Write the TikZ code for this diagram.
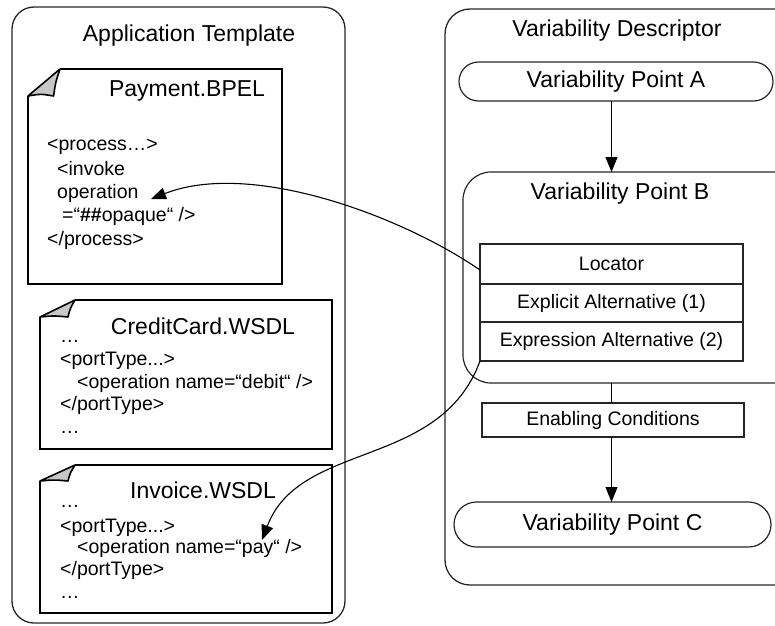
\documentclass[tikz,border=0pt]{standalone}
\usepackage{fontspec}
\setmainfont{Liberation Sans}
\usetikzlibrary{arrows.meta,positioning,calc}

\newcommand{\bigtext}{\fontsize{23}{27}\selectfont}
\newcommand{\codetext}{\fontsize{19.5}{23}\selectfont}

% outline of a document with its top left corner turned down
\newcommand{\docoutline}[3]{%
  \draw[docline] ($(#1.north west)+(#2,0)$) -- (#1.north east) -- (#1.south east)
    -- (#1.south west) -- ($(#1.north west)+(0,#3)$);
  \filldraw[fold] ($(#1.north west)+(#2,0)$) -- ($(#1.north west)+(0,#3)$)
    .. controls ($(#1.north west)+(0.4*#2,0.92*#3)$) .. ($(#1.north west)+(0.8*#2,#3)$)
    .. controls ($(#1.north west)+(0.86*#2,0.5*#3)$) .. ($(#1.north west)+(#2,0)$) -- cycle;}

\tikzset{
  frame/.style={draw=black!85, line width=1.3pt, inner sep=0pt, outer sep=0pt},
  docbox/.style={rectangle, inner sep=0pt, outer sep=0pt},
  docline/.style={line width=2pt, line join=miter},
  fold/.style={fill=black!22, draw=black, line width=1.6pt, line join=round},
  bigtitle/.style={font=\bigtext, inner sep=0pt},
  codeline/.style={font=\codetext, anchor=west, inner sep=0pt, text height=14pt, text depth=4pt},
  cell/.style={draw=black!85, line width=1.2pt, font=\codetext, minimum width=263pt, inner sep=0pt, outer sep=0pt},
  vpoint/.style={draw=black!85, line width=1.2pt, font=\bigtext, inner sep=0pt, outer sep=0pt},
  flow/.style={line width=1.2pt, -{Triangle[length=15pt,width=12pt]}},
  link/.style={line width=1.1pt, -{Triangle[length=15pt,width=12pt]}},
}

\begin{document}
\begin{tikzpicture}[x=1pt, y=-1pt]
  \useasboundingbox (0,0) rectangle (775,625);
  \clip (0,0) rectangle (775,625);

  % application template
  \node[frame, rounded corners=22pt, minimum width=333pt, minimum height=616pt] (apptpl) at (178.5,315) {};
  \node[bigtitle] (apptitle) at (189,36) {Application Template};

  \node[docbox, minimum width=254pt, minimum height=215pt] (pay) at (155,176.5) {};
  \node[docbox, minimum width=292pt, minimum height=149pt] (crd) at (186,374.5) {};
  \node[docbox, minimum width=292pt, minimum height=148pt] (inv) at (186,539) {};
  \docoutline{pay}{32}{27}
  \docoutline{crd}{35}{17}
  \docoutline{inv}{35}{16}

  \node[bigtitle] (paytitle) at (187,91) {Payment.BPEL};
  \node[codeline] (p1) at (47,145) {<process…>};
  \node[codeline] (p2) at (57,170) {<invoke};
  \node[codeline] (payop) at (57,193) {operation};
  \node[codeline] (p4) at (62,216) {=“\textbf{\#\#}opaque“ />};
  \node[codeline] (p5) at (47,240) {</process>};
  \coordinate (paytip) at (151,199);

  \node[bigtitle] (crdtitle) at (203,326) {CreditCard.WSDL};
  \node[codeline] (c1) at (60,337) {…};
  \node[codeline] (c2) at (60,360) {<portType...>};
  \node[codeline] (c3) at (77,383) {<operation name=“debit“ />};
  \node[codeline] (c4) at (60,405) {</portType>};
  \node[codeline] (c5) at (60,428) {…};

  \node[bigtitle] (invtitle) at (203,490) {Invoice.WSDL};
  \node[codeline] (i1) at (60,502) {…};
  \node[codeline] (i2) at (60,527) {<portType...>};
  \node[codeline] (invop) at (77,548) {<operation name=“pay“ />};
  \node[codeline] (i4) at (60,570) {</portType>};
  \node[codeline] (i5) at (60,593) {…};
  \coordinate (invtip) at (262,540);

  % variability descriptor
  \node[frame, rounded corners=25pt, minimum width=360pt, minimum height=576pt] (vdesc) at (625,297) {};
  \node[bigtitle] (vdtitle) at (617,31) {Variability Descriptor};

  \node[vpoint, rounded corners=19.5pt, minimum width=314pt, minimum height=39pt] (ptA) at (616,81.5) {Variability Point A};
  \node[vpoint, rounded corners=28pt, minimum width=342pt, minimum height=211pt] (ptB) at (634,277.5) {};
  \node[bigtitle] (ptBtitle) at (620,194) {Variability Point B};

  \node[cell, minimum height=40pt] (loc) at (611.5,264) {Locator};
  \node[cell, minimum height=38pt, below=0pt of loc] (expl) {Explicit Alternative (1)};
  \node[cell, minimum height=39pt, below=0pt of expl] (expr) {Expression Alternative (2)};

  \node[cell, minimum width=262pt, minimum height=34pt] (enab) at (613,420) {Enabling Conditions};
  \node[vpoint, rounded corners=22.5pt, minimum width=317pt, minimum height=45pt] (ptC) at (612.5,524.5) {Variability Point C};

  \draw[flow] (ptA.south -| loc.north) -- (ptB.north -| loc.north);
  \draw[line width=1.2pt] (ptB.south -| loc.north) -- (enab.north -| loc.north);
  \draw[flow] (enab.south -| loc.north) -- (ptC.north -| loc.north);

  % references into the documents
  \draw[link] ([yshift=-6pt]loc.west) .. controls (400,215) and (250,160) .. (paytip);
  \draw[link] (expr.south west) .. controls (440,470) and (300,440) .. (invtip);

\end{tikzpicture}
\end{document}
